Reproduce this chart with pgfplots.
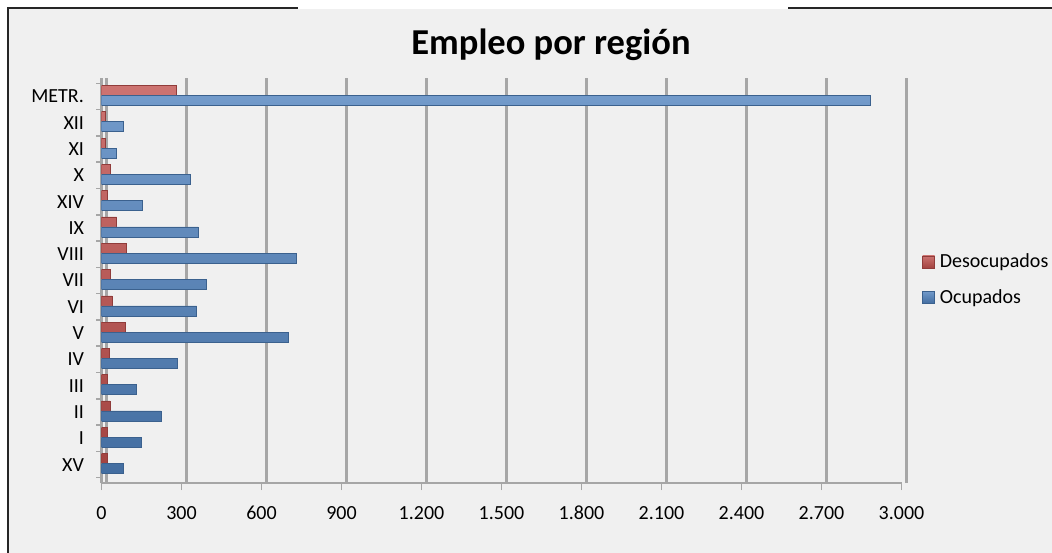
\documentclass[border=0pt]{standalone}
\usepackage{pgfplots}
\usepackage{pgfplotstable}
\pgfplotsset{compat=1.18}
\usepackage{fontspec}
\setmainfont{Carlito}

\definecolor{fondo}{HTML}{F0F0F0}
\definecolor{desoc}{HTML}{C0504D}
\definecolor{ocup}{HTML}{4F81BD}
\definecolor{rejilla}{HTML}{A6A6A6}

% Ocupados y desocupados por región (miles de personas)
\pgfplotstableread{
idx region ocup desoc
0  XV     81  20
1  I     149  21
2  II    224  31
3  III   130  20
4  IV    284  29
5  V     700  90
6  VI    357  40
7  VII   391  32
8  VIII  730  92
9  IX    362  57
10 XIV   151  20
11 X     331  31
12 XI     57  14
13 XII    81  14
14 METR. 2884 282
}\datos

\begin{document}
\begin{tikzpicture}[x=1pt,y=1pt]
\useasboundingbox (0,0) rectangle (1052,-553);
\fill[white] (0,0) rectangle (1052,-553);
\fill[fondo] (7,-8) rectangle (1052,-553);
\fill[white] (298,0) rectangle (788,-9.5);
\draw[black!85, line width=1.6pt] (7.8,-553) -- (7.8,-7.8) -- (298,-7.8);
\draw[black!85, line width=1.6pt] (788,-7.8) -- (1052,-7.8);

\node[font=\fontsize{36.5}{42}\selectfont\bfseries] at (551,-45) {Empleo por región};

\begin{axis}[
  at={(101.5pt,-483pt)}, anchor=south west,
  width=800pt, height=405pt, scale only axis,
  xbar, bar width=10pt,
  xmin=0, xmax=3000, ymin=-0.7, ymax=14.7,
  xtick={0,300,...,3000},
  ytick={0,...,14},
  yticklabels from table={\datos}{region},
  minor ytick={-0.5,0.5,...,14.5},
  axis x line*=bottom, axis y line*=left,
  axis line style={rejilla, line width=2.5pt, -},
  xmajorgrids,
  major x grid style={rejilla, line width=3pt, xshift=4.5pt},
  tick align=outside,
  major tick length=7pt, minor tick length=5pt,
  every major y tick/.append style={draw=none},
  every minor y tick/.append style={rejilla, line width=1.5pt},
  every major x tick/.append style={rejilla, line width=1.5pt},
  ticklabel style={font=\fontsize{20}{24}\selectfont, text=black},
  xticklabel style={yshift=-12pt, text height=14pt, text depth=4pt},
  yticklabel style={xshift=-7pt},
  /pgf/number format/1000 sep={.},
  /pgf/number format/assume math mode=true,
  legend style={at={(1.022,0.5025)}, anchor=west, draw=none, fill=none,
    font=\fontsize{20}{24}\selectfont, row sep=16pt,
    nodes={inner xsep=5pt}},
  legend cell align=left,
  legend image code/.code={\fill[#1] (0pt,-6pt) rectangle (12pt,6pt);},
]
\addplot[draw=desoc!75!black, line width=0.5pt, top color=desoc!80!white, middle color=desoc, bottom color=desoc!85!black, bar shift=6pt]
  table[x=desoc, y=idx] {\datos};
\addlegendentry{Desocupados}
\addplot[draw=ocup!75!black, line width=0.5pt, top color=ocup!80!white, middle color=ocup, bottom color=ocup!85!black, bar shift=-4pt]
  table[x=ocup, y=idx] {\datos};
\addlegendentry{Ocupados}
\end{axis}
\end{tikzpicture}
\end{document}
